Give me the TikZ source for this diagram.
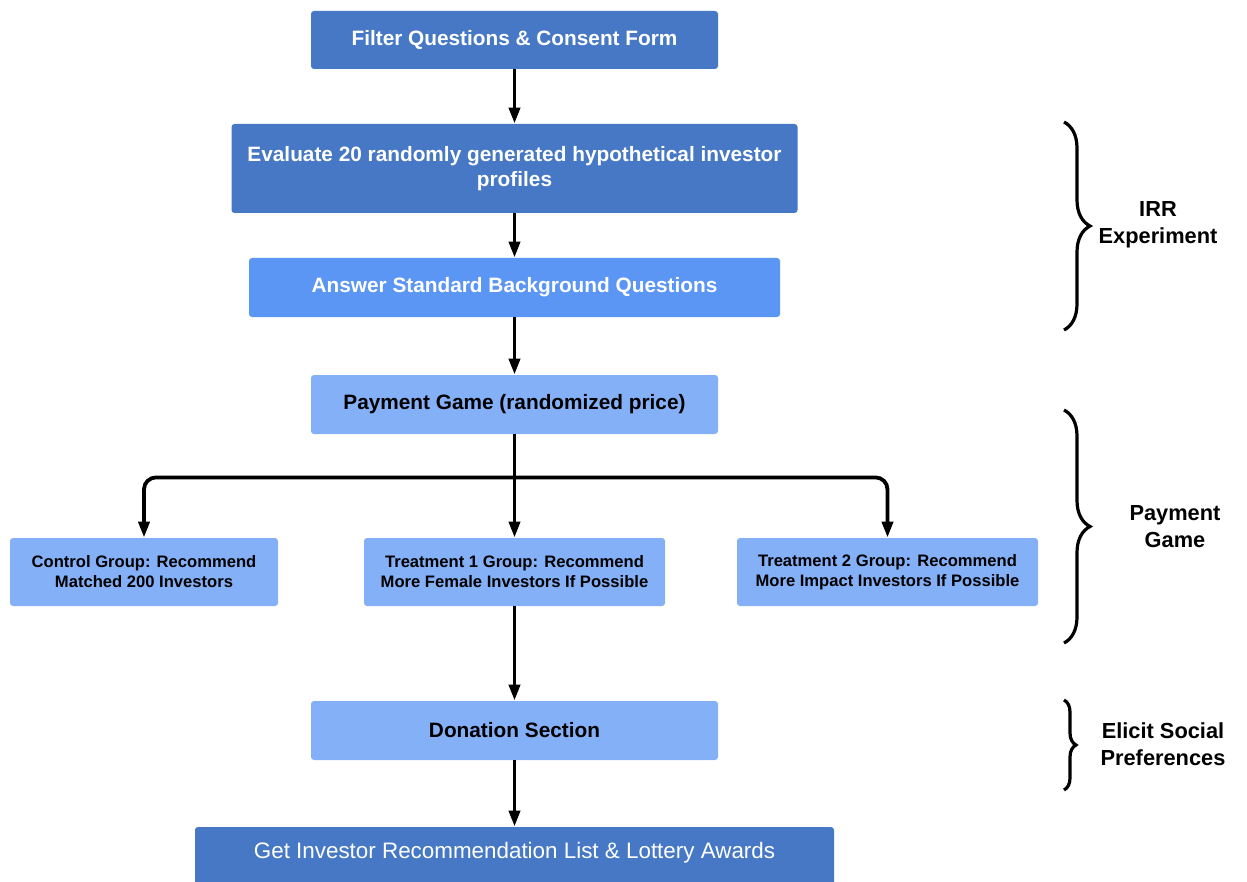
\documentclass[tikz,border=0pt]{standalone}
\usepackage{fontspec}
\setmainfont{Liberation Sans}
\usetikzlibrary{arrows.meta,decorations.pathreplacing}
\definecolor{dkblue}{RGB}{70,120,198}
\definecolor{mdblue}{RGB}{91,150,244}
\definecolor{ltblue}{RGB}{132,176,248}
\begin{document}
\begin{tikzpicture}[x=0.5pt,y=-0.5pt,
  box/.style={rectangle, rounded corners=1.5pt, inner sep=0pt, align=center,
    font=\fontsize{10.4}{12.5}\selectfont\bfseries},
  darkbox/.style={box, fill=dkblue, text=white},
  midbox/.style={box, fill=mdblue, text=white},
  lightbox/.style={box, fill=ltblue, text=black},
  groupbox/.style={lightbox, minimum width=150.5pt, minimum height=34pt,
    font=\fontsize{8.3}{10}\selectfont\bfseries},
  conn/.style={line width=1.9pt, -{Triangle[length=8pt,width=5.5pt]}},
  bracestyle/.style={line width=1.6pt, decorate, decoration={brace}},
  bracelabel/.style={align=center, font=\fontsize{10.9}{13.5}\selectfont\bfseries}
]
\useasboundingbox (0,0) rectangle (1247,882);

\node[darkbox, minimum width=203.5pt, minimum height=29pt] (filter) at (514.5,40) {Filter Questions \& Consent Form};
\node[darkbox, minimum width=283pt, minimum height=44.5pt] (eval) at (514.5,168.5) {Evaluate 20 randomly generated hypothetical investor\\profiles};
\node[midbox, minimum width=265.5pt, minimum height=29.5pt] (answer) at (514.5,287.5) {Answer Standard Background Questions};
\node[lightbox, minimum width=203.5pt, minimum height=29.5pt] (pay) at (514.5,404.5) {Payment Game (randomized price)};
\node[groupbox, minimum width=134pt] (ctrl) at (144,572) {Control Group: Recommend\\Matched 200 Investors};
\node[groupbox] (t1) at (514.5,572) {Treatment 1 Group: Recommend\\More Female Investors If Possible};
\node[groupbox] (t2) at (887.5,572) {Treatment 2 Group: Recommend\\More Impact Investors If Possible};
\node[lightbox, minimum width=203.5pt, minimum height=29.5pt] (don) at (514.5,730.5) {Donation Section};
\node[darkbox, minimum width=319.5pt, minimum height=32pt] (get) at (514.5,859) {};
\node[text=white, font=\fontsize{11.2}{13}\selectfont] (gettext) at (514.5,853) {Get Investor Recommendation List \& Lottery Awards};

\coordinate (br) at ([yshift=-21.5pt]pay.south);

\draw[conn] (filter) -- (eval);
\draw[conn] (eval) -- (answer);
\draw[conn] (answer) -- (pay);
\draw[conn] (pay) -- (t1);
\draw[conn, rounded corners=6pt] (br) -| (ctrl.north);
\draw[conn, rounded corners=6pt] (br) -| (t2.north);
\draw[conn] (t1) -- (don);
\draw[conn] (don) -- (get.north);

\coordinate (irrA) at (1064,122);
\coordinate (irrB) at (1064,330);
\draw[bracestyle, decoration={amplitude=13pt}] (irrA) -- (irrB);
\node[bracelabel] (irr) at (1158,225) {IRR\\Experiment};

\coordinate (payA) at (1064,410);
\coordinate (payB) at (1064,643);
\draw[bracestyle, decoration={amplitude=13pt}] (payA) -- (payB);
\node[bracelabel] (paylab) at (1175,527) {Payment\\Game};

\coordinate (elA) at (1064,700);
\coordinate (elB) at (1064,790);
\draw[bracestyle, decoration={amplitude=6pt}] (elA) -- (elB);
\node[bracelabel] (ellab) at (1163,744) {Elicit Social\\Preferences};
\end{tikzpicture}
\end{document}
